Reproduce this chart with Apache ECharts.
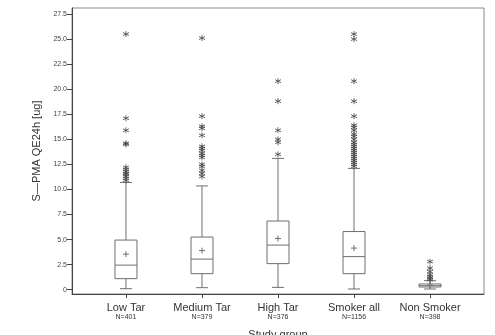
<!DOCTYPE html>
<html><head><meta charset="utf-8">
<script src="https://cdn.jsdelivr.net/npm/echarts@6/dist/echarts.min.js"></script>
<style>html,body{margin:0;padding:0;background:#fff}#c{width:495px;height:335px}</style>
</head><body><div id="c"></div>
<script>
// Categories and counts
const categories = ['Low Tar', 'Medium Tar', 'High Tar', 'Smoker all', 'Non Smoker'];
const counts = [401, 379, 376, 1156, 398];
// Box statistics: [min whisker, Q1, median, Q3, max whisker]
const whiskerLow = [0.1, 0.2, 0.23, 0.07, 0.07];
const q1 = [1.1, 1.6, 2.6, 1.6, 0.27];
const median = [2.45, 3.05, 4.45, 3.3, 0.4];
const q3 = [4.95, 5.25, 6.85, 5.8, 0.57];
const whiskerHigh = [10.7, 10.35, 13.1, 12.1, 0.9];
const mean = [3.55, 3.9, 5.1, 4.15, 0.45];
// Outliers per group
const outLowTar = [25.5, 17.1, 15.9, 14.6, 14.5, 12.2, 12.0, 11.8, 11.6, 11.5, 11.3, 11.1, 10.9];
const outMediumTar = [25.1, 17.3, 16.3, 16.1, 15.4, 14.3, 14.1, 13.9, 13.6, 13.4, 13.2, 12.5, 12.3, 11.9, 11.6, 11.3];
const outHighTar = [20.8, 18.8, 15.9, 15.0, 14.7, 13.5];
const outSmokerAll = [25.5, 25.0, 20.8, 18.8, 17.3, 16.4, 16.2, 15.9, 15.5, 15.3, 15.0, 14.7, 14.5, 14.3, 14.1, 13.9, 13.7, 13.5, 13.3, 13.1, 12.9, 12.7, 12.5, 12.3];
const outNonSmoker = [2.8, 2.15, 1.8, 1.5, 1.3, 1.15, 1.0];
const yTicks = [0, 2.5, 5, 7.5, 10, 12.5, 15, 17.5, 20, 22.5, 25, 27.5];

const outliers = [outLowTar, outMediumTar, outHighTar, outSmokerAll, outNonSmoker];
const boxData = categories.map((c, i) => [i + 1, whiskerLow[i], q1[i], median[i], q3[i], whiskerHigh[i], mean[i]]);
const outData = [];
outliers.forEach((arr, i) => arr.forEach(v => outData.push([i + 1, v])));

const chart = echarts.init(document.getElementById('c'), null, {renderer: 'canvas'});
const LINE = '#6e6e6e';
chart.setOption({
  animation: false,
  backgroundColor: '#fff',
  textStyle: {fontFamily: 'Liberation Sans'},
  grid: {left: 72, right: 11, top: 8, bottom: 41, containLabel: false, outerBoundsMode: 'none',
    show: true, borderColor: '#8a8a8a', borderWidth: 1},
  xAxis: {
    type: 'value', min: 0.29, max: 5.71,
    name: 'Study group', nameLocation: 'middle', nameGap: 35,
    nameTextStyle: {fontSize: 11, color: '#333', fontFamily: 'Liberation Sans'},
    axisLine: {show: true, onZero: false, lineStyle: {color: '#444'}},
    splitLine: {show: false},
    axisTick: {show: true, customValues: [1, 2, 3, 4, 5], length: 4, lineStyle: {color: '#444'}},
    axisLabel: {
      customValues: [1, 2, 3, 4, 5], margin: 9,
      formatter: v => '{a|' + categories[Math.round(v) - 1] + '}\n{b|N=' + counts[Math.round(v) - 1] + '}',
      rich: {
        a: {fontSize: 11, lineHeight: 10, color: '#333', fontFamily: 'Liberation Sans'},
        b: {fontSize: 7, lineHeight: 9, color: '#333', fontFamily: 'Liberation Sans'}
      }
    }
  },
  yAxis: {
    type: 'value', min: -0.43, max: 28.1,
    name: 'S\u2014PMA QE24h [ug]', nameLocation: 'middle', nameGap: 26,
    nameTextStyle: {fontSize: 11, color: '#333', fontFamily: 'Liberation Sans'},
    axisLine: {show: true, onZero: false, lineStyle: {color: '#444'}},
    splitLine: {show: false},
    axisTick: {show: true, customValues: yTicks, length: 5, lineStyle: {color: '#444'}},
    axisLabel: {customValues: yTicks, margin: 5, fontSize: 7, color: '#444',
      formatter: v => v === 0 ? '0' : v.toFixed(1)}
  },
  series: [
    {
      type: 'custom',
      data: boxData,
      encode: {x: 0, y: [1, 2, 3, 4, 5, 6]},
      renderItem: function (params, api) {
        const x = api.value(0);
        const p = k => api.coord([x, api.value(k)]);
        const pMin = p(1), pQ1 = p(2), pMed = p(3), pQ3 = p(4), pMax = p(5), pMean = p(6);
        const cx = pMin[0];
        const hw = 11, cw = 6, m = 3;
        const st = {stroke: LINE, lineWidth: 1, fill: null};
        const ln = (x1, y1, x2, y2) => ({type: 'line', shape: {x1, y1, x2, y2}, style: st});
        return {
          type: 'group',
          children: [
            ln(cx, pQ1[1], cx, pMin[1]),
            ln(cx, pQ3[1], cx, pMax[1]),
            ln(cx - cw, pMin[1], cx + cw, pMin[1]),
            ln(cx - cw, pMax[1], cx + cw, pMax[1]),
            {type: 'rect', shape: {x: cx - hw, y: pQ3[1], width: hw * 2, height: pQ1[1] - pQ3[1]},
              style: {stroke: LINE, lineWidth: 1, fill: '#fff'}},
            ln(cx - hw, pMed[1], cx + hw, pMed[1]),
            ln(cx - m, pMean[1], cx + m, pMean[1]),
            ln(cx, pMean[1] - m, cx, pMean[1] + m)
          ]
        };
      },
      z: 2
    },
    {
      type: 'scatter',
      data: outData,
      symbol: 'path://M5 0 L5 10 M0.7 2.5 L9.3 7.5 M0.7 7.5 L9.3 2.5',
      symbolSize: 6,
      itemStyle: {color: 'none', borderColor: '#444', borderWidth: 1},
      z: 3
    }
  ]
});
</script></body></html>
